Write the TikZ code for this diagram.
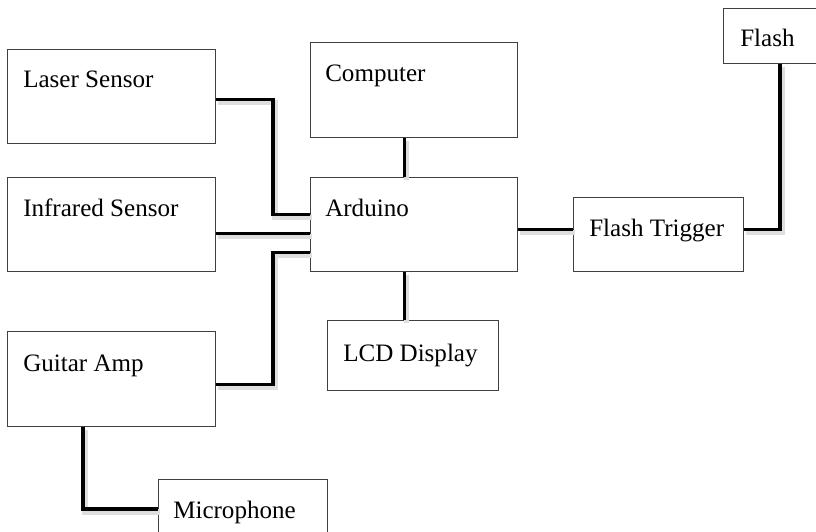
\documentclass[tikz,border=0pt]{standalone}
\usepackage{fontspec}
\setmainfont{Liberation Serif}
\usetikzlibrary{calc}
\tikzset{
  box/.style n args={2}{draw=black!75, line width=0.9pt, fill=white, inner sep=0pt,
    anchor=north west, minimum width=#1*0.75pt, minimum height=#2*0.75pt},
  lbl/.style={anchor=base west, inner sep=0pt, font=\fontsize{18.8}{22}\selectfont},
  wire/.style={line width=2.3pt, black, line join=miter,
    preaction={draw=black!13, line width=4pt,
      transform canvas={xshift=1.6pt, yshift=-2.2pt}}}
}
\begin{document}
\begin{tikzpicture}[x=0.75pt, y=-0.75pt]
\useasboundingbox (0,0) rectangle (816,531);
\clip (0,0) rectangle (816,531);
% connectors first, boxes on top
\path (7,49) coordinate (pLaser) (7,177) coordinate (pInfra) (7,331) coordinate (pAmp)
  (310,42) coordinate (pComp) (310,177) coordinate (pArd) (327,320) coordinate (pLcd)
  (573,197) coordinate (pTrig) (723,8) coordinate (pFlash) (158,479) coordinate (pMic);
\node[box={208}{94}] (laser) at (pLaser) {};
\node[box={208}{94}] (infra) at (pInfra) {};
\node[box={208}{95}] (amp) at (pAmp) {};
\node[box={207}{95}] (comp) at (pComp) {};
\node[box={207}{94}] (ard) at (pArd) {};
\node[box={171}{70}] (lcd) at (pLcd) {};
\node[box={170}{74}] (trig) at (pTrig) {};
\node[box={120}{55}] (flash) at (pFlash) {};
\node[box={169}{80}] (mic) at (pMic) {};
% wires
\draw[wire] ($(laser.east)+(0,3)$) -| ($(ard.west)+(-37,-10)$) -- ($(ard.west)+(0,-10)$);
\draw[wire] ($(infra.east)+(0,9)$) -- ($(ard.west)+(0,9)$);
\draw[wire] ($(amp.east)+(0,5)$) -| ($(ard.west)+(-37,28)$) -- ($(ard.west)+(0,28)$);
\draw[wire] ($(comp.south)+(-10,0)$) coordinate (c1) -- (c1 |- ard.north);
\draw[wire] ($(ard.south)+(-10,0)$) coordinate (a1) -- (a1 |- lcd.north);
\draw[wire] ($(ard.east)+(0,5)$) coordinate (a2) -- (a2 -| trig.west);
\draw[wire] ($(trig.east)+(0,-5)$) -| ($(flash.south west)+(57,0)$);
\draw[wire] ($(amp.south west)+(76,0)$) |- ($(mic.north west)+(0,30)$);
% labels
\node[lbl] (laserT) at ($(laser.north west)+(16,39)$) {Laser Sensor};
\node[lbl] (infraT) at ($(infra.north west)+(16,39)$) {Infrared Sensor};
\node[lbl] (ampT) at ($(amp.north west)+(16,40)$) {Guitar Amp};
\node[lbl] (compT) at ($(comp.north west)+(15,40)$) {Computer};
\node[lbl] (ardT) at ($(ard.north west)+(15,39)$) {Arduino};
\node[lbl] (lcdT) at ($(lcd.north west)+(16,41)$) {LCD Display};
\node[lbl] (trigT) at ($(trig.north west)+(16,39)$) {Flash Trigger};
\node[lbl] (flashT) at ($(flash.north west)+(17,39)$) {Flash};
\node[lbl] (micT) at ($(mic.north west)+(15,39)$) {Microphone};
\end{tikzpicture}
\end{document}
